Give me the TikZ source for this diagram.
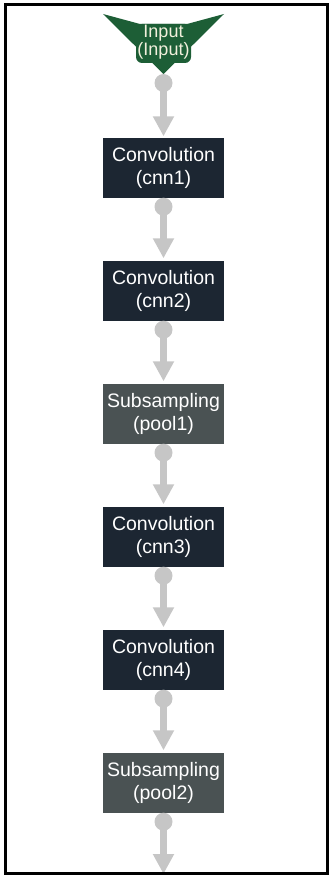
\documentclass[tikz,border=0pt]{standalone}
\usepackage{fontspec}
\setmainfont{Liberation Sans}
\usetikzlibrary{arrows.meta,calc}
\definecolor{convc}{HTML}{1C2632}
\definecolor{poolc}{HTML}{4A5253}
\definecolor{connc}{HTML}{C6C6C6}
\definecolor{inc}{HTML}{1D5E36}
\definecolor{intext}{HTML}{F2F0DC}
\tikzset{
  layer/.style={rectangle, minimum width=121pt, minimum height=60pt, inner sep=0pt,
    text=white, align=center, font=\fontsize{19.5}{23}\selectfont},
  conv/.style={layer, fill=convc},
  pool/.style={layer, fill=poolc},
  connline/.style={draw=connc, line width=7pt, -{Triangle[width=20pt,length=20pt]}},
  conndot/.style={fill=connc},
}
\begin{document}
\begin{tikzpicture}[x=1pt,y=-1pt]
\useasboundingbox (0,0) rectangle (330,875);
% input shape
\fill[inc] (103,14) -- (140,24) -- (163.5,24) -- (187,24) -- (224,14) -- (163.5,74) -- cycle;
\fill[inc, rounded corners=6pt] (136,24) rectangle (191,63);
\node[align=center, inner sep=0pt, font=\fontsize{18}{18}\selectfont, text=intext] (in) at (163.5,42.5)
  {Input\\(Input)};
\coordinate (inbot) at (163.5,74);
% layers
\node[conv] (c1) at (163.5,167.5) {Convolution\\(cnn1)};
\node[conv] (c2) at (163.5,290.5) {Convolution\\(cnn2)};
\node[pool] (p1) at (163.5,413.5) {Subsampling\\(pool1)};
\node[conv] (c3) at (163.5,536.5) {Convolution\\(cnn3)};
\node[conv] (c4) at (163.5,659.5) {Convolution\\(cnn4)};
\node[pool] (p2) at (163.5,782.5) {Subsampling\\(pool2)};
\coordinate (endpt) at (163.5,874);
% connectors
\foreach \a/\b in {c1/c2,c2/p1,p1/c3,c3/c4,c4/p2}{
  \draw[connline] ($(\a.south)+(0,9)$) -- ($(\b.north)+(0,-2)$);
  \fill[conndot] ($(\a.south)+(0,9)$) circle (9);
}
\draw[connline] ($(inbot)+(0,9)$) -- ($(c1.north)+(0,-1)$);
\fill[conndot] ($(inbot)+(0,9)$) circle (9);
\draw[connline] ($(p2.south)+(0,9)$) -- (endpt);
\fill[conndot] ($(p2.south)+(0,9)$) circle (9);
% frame
\draw[line width=3pt] (5.5,4.5) rectangle (327.5,873.5);
\end{tikzpicture}
\end{document}
